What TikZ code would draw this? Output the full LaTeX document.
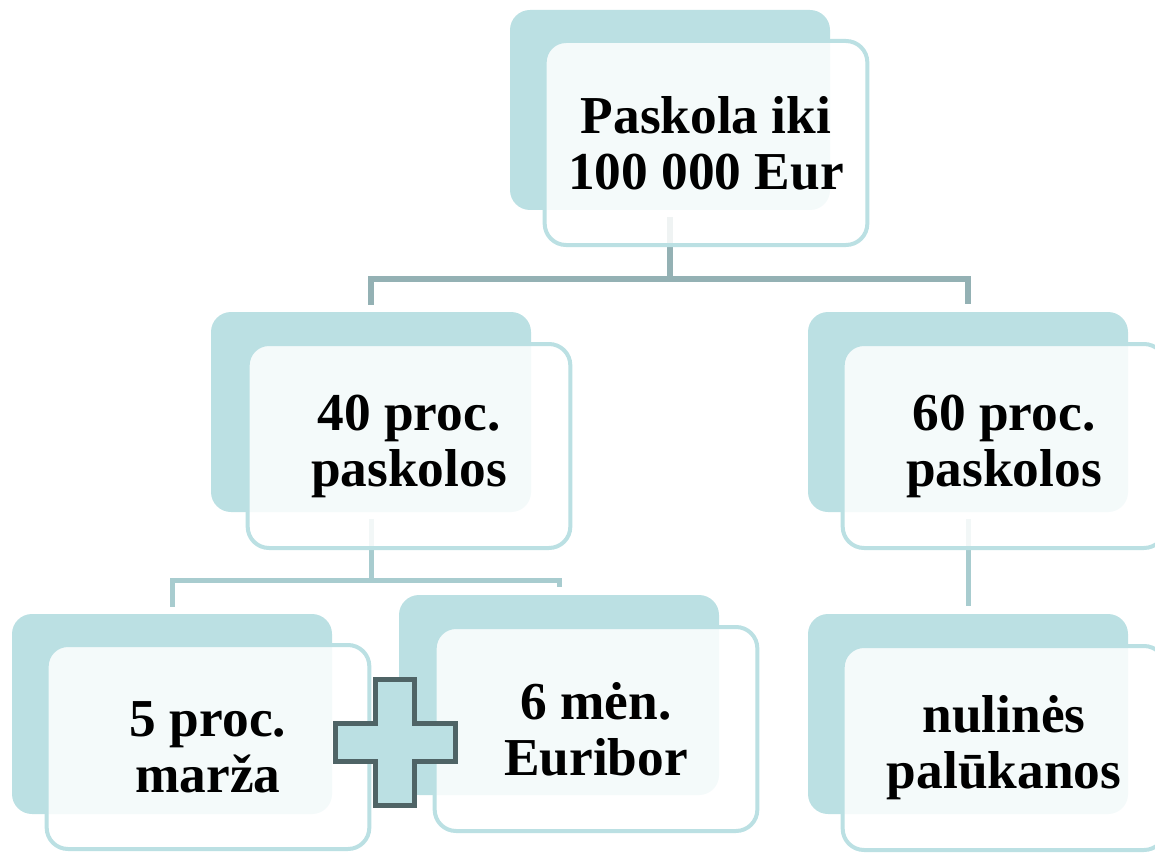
\documentclass[tikz,border=0pt]{standalone}
\usepackage{fontspec}
\setmainfont{Liberation Serif}
\definecolor{boxteal}{RGB}{187,224,227}
\definecolor{trunkgray}{RGB}{148,177,180}
\definecolor{branchgray}{RGB}{168,204,207}
\definecolor{plusedge}{RGB}{79,100,102}
\tikzset{every picture/.style={line width=0.75pt}}
\tikzset{
  backbox/.style={fill=boxteal, rounded corners=15pt, minimum width=240pt, minimum height=150pt, inner sep=0pt},
  frontbox/.style={draw=boxteal, line width=3pt, fill=white, fill opacity=0.85, text opacity=1,
    rounded corners=16pt, minimum width=242pt, minimum height=153pt, inner sep=0pt, align=center,
    font=\bfseries\fontsize{40}{42}\selectfont},
  trunk/.style={draw=trunkgray, line width=4.5pt, shorten <=5pt, shorten >=6pt},
  branch/.style={draw=branchgray, line width=3.75pt, shorten <=5pt, shorten >=6pt},
  plussign/.style={draw=plusedge, fill=boxteal, line width=3.75pt},
}
\begin{document}
\begin{tikzpicture}[x=0.75pt,y=0.75pt,yscale=-1,xscale=1]
\useasboundingbox (0,0) rectangle (1155,852);

%Shape: back boxes
\node[backbox] (topb) at (670,110) {};
\node[backbox] (midLb) at (371,412) {};
\node[backbox] (midRb) at (968,412) {};
\node[backbox] (botLb) at (172,714) {};
\node[backbox] (botMb) at (559,695) {};
\node[backbox] (botRb) at (968,714) {};

%Straight Lines: connectors
\path (topb.south) ++(0,68) coordinate (topj);
\path (midLb.south) ++(0,68) coordinate (midj);
\draw[trunk, shorten >=0pt] (topb.south) -- (topj);
\draw[trunk] (midLb.north) |- (topj) -| (midRb.north);
\draw[branch, shorten >=0pt] (midLb.south) -- (midj);
\draw[branch] (botLb.north) |- (midj) -| (botMb.north);
\draw[branch] (midRb.south) -- (botRb.north);

%Shape: front boxes
\node[frontbox] (topf) at ([shift={(36,33)}]topb.center) {Paskola iki\\100 000 Eur};
\node[frontbox] (midLf) at ([shift={(38,34)}]midLb.center) {40 proc.\\paskolos};
\node[frontbox] (midRf) at ([shift={(36,34)}]midRb.center) {60 proc.\\paskolos};
\node[frontbox] (botLf) at ([shift={(36,33)}]botLb.center) {5 proc.\\marža};
\node[frontbox] (botMf) at ([shift={(37,34)}]botMb.center) {6 mėn.\\Euribor};
\node[frontbox] (botRf) at ([shift={(36,34)}]botRb.center) {nulinės\\palūkanos};

%Shape: plus
\coordinate (plus) at (395,742);
\draw[plussign] (plus) ++(-19.5,-63) -- ++(39,0) -- ++(0,44) -- ++(40.5,0) -- ++(0,38) -- ++(-40.5,0)
  -- ++(0,44) -- ++(-39,0) -- ++(0,-44) -- ++(-40.5,0) -- ++(0,-38) -- ++(40.5,0) -- cycle;

\end{tikzpicture}
\end{document}
